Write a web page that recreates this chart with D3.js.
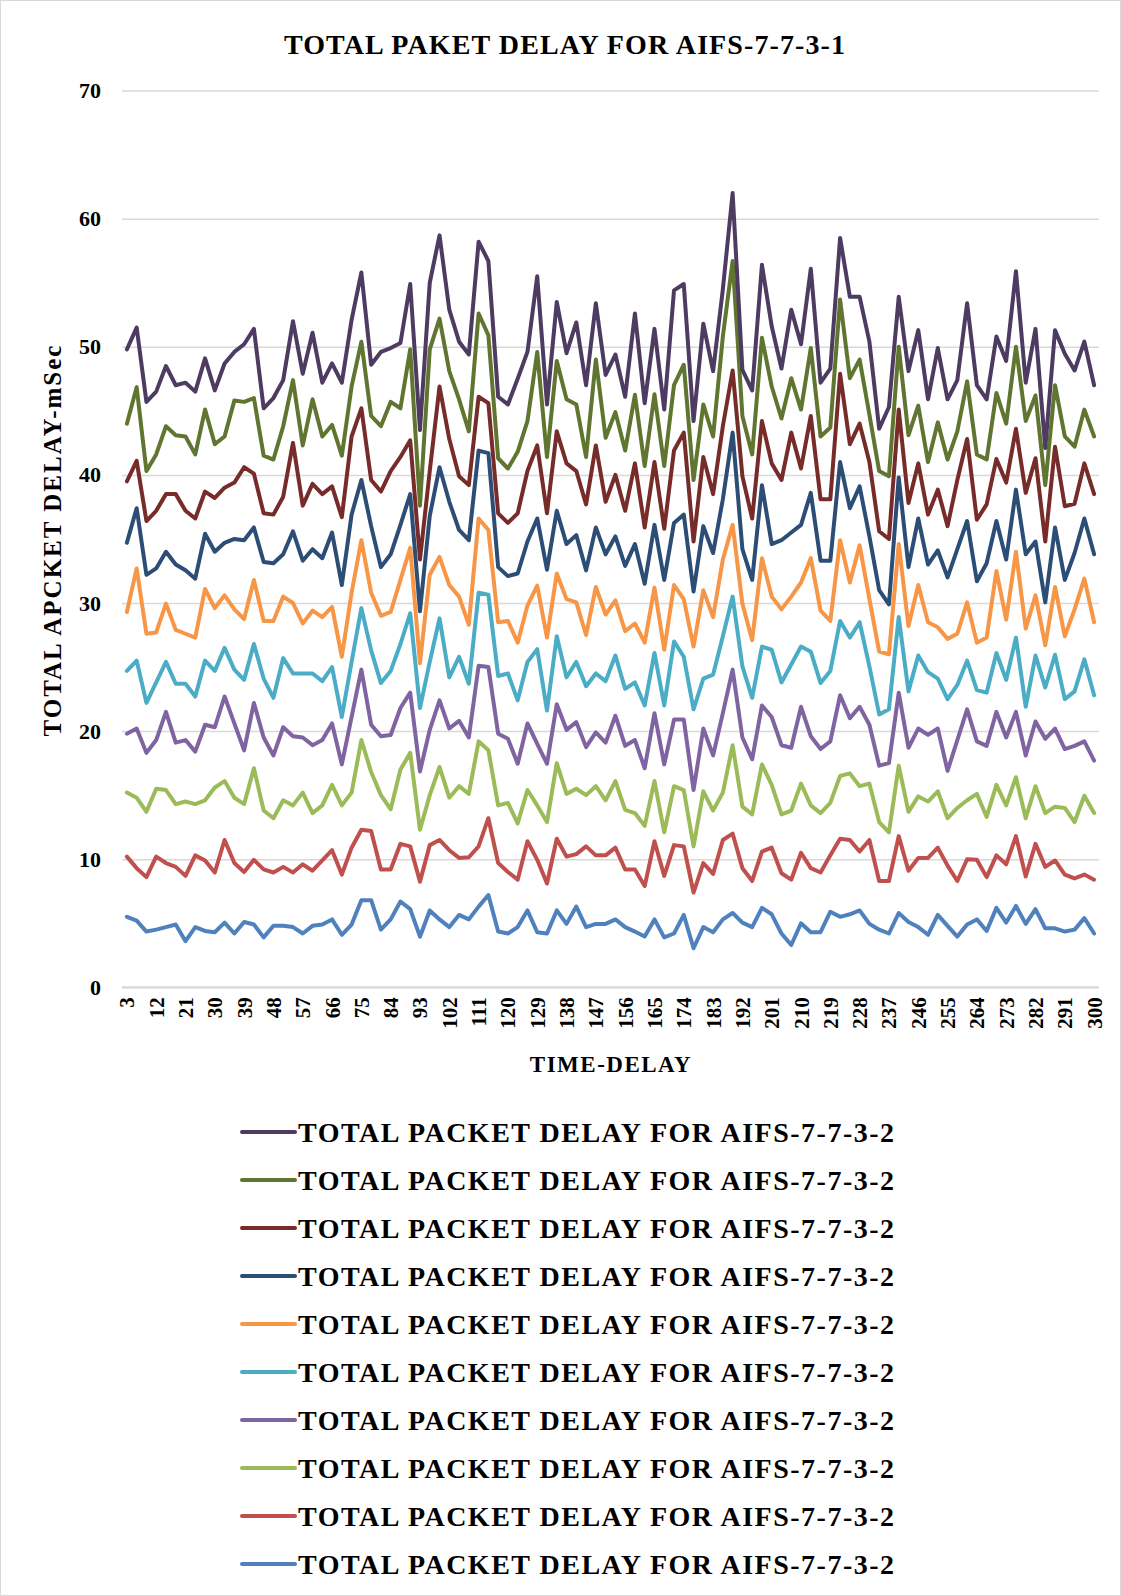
<!DOCTYPE html>
<html>
<head>
<meta charset="utf-8">
<script src="https://cdn.jsdelivr.net/npm/d3@7"></script>
<style>
  body { margin: 0; background: #fff; }
  text { font-family: "Liberation Serif", "Times New Roman", serif; font-weight: bold; fill: #000; }
</style>
</head>
<body>
<div id="packetDelayChart"></div>
<script>
// x categories: 3, 6, ..., 300
var timeDelay = d3.range(3, 301, 3);
var yTicks = [0, 10, 20, 30, 40, 50, 60, 70];
var seriesName = "TOTAL PACKET DELAY FOR AIFS-7-7-3-2";

// series values (bottom series first)
var seriesBlue = [5.5,5.2,4.35,4.5,4.7,4.9,3.6,4.7,4.4,4.3,5.05,4.2,5.1,4.9,3.9,4.8,4.8,4.7,4.2,4.8,4.9,5.3,4.1,4.9,6.8,6.8,4.5,5.3,6.7,6.1,3.95,6.0,5.3,4.7,5.65,5.3,6.3,7.2,4.35,4.2,4.7,6.0,4.3,4.2,6.0,4.95,6.3,4.7,4.95,4.95,5.3,4.7,4.35,3.96,5.3,3.9,4.2,5.65,3.05,4.7,4.3,5.3,5.8,5.05,4.7,6.2,5.7,4.2,3.3,5.0,4.3,4.3,5.9,5.5,5.7,6.0,4.95,4.5,4.2,5.8,5.1,4.7,4.1,5.65,4.8,3.96,4.9,5.3,4.4,6.2,5.05,6.35,4.95,6.1,4.6,4.6,4.35,4.5,5.4,4.2];
var seriesRed = [10.2,9.3,8.6,10.2,9.7,9.4,8.7,10.3,9.9,8.96,11.5,9.7,9.0,9.95,9.2,8.96,9.4,8.96,9.6,9.1,9.9,10.7,8.8,10.9,12.3,12.2,9.2,9.2,11.2,11.0,8.25,11.1,11.5,10.7,10.1,10.15,11.0,13.2,9.7,9.0,8.4,11.4,9.95,8.1,11.6,10.2,10.4,11.0,10.3,10.3,10.9,9.2,9.2,7.9,11.4,8.7,11.1,11.0,7.4,9.7,8.85,11.5,12.0,9.3,8.3,10.6,10.9,8.9,8.4,10.5,9.3,8.96,10.3,11.6,11.5,10.6,11.5,8.3,8.3,11.8,9.1,10.1,10.1,10.9,9.5,8.3,10.0,9.95,8.6,10.3,9.6,11.8,8.65,11.2,9.4,9.9,8.8,8.5,8.8,8.4];
var seriesGreen = [15.2,14.8,13.7,15.5,15.4,14.3,14.5,14.3,14.6,15.6,16.1,14.8,14.3,17.1,13.8,13.2,14.6,14.2,15.2,13.6,14.2,15.8,14.2,15.2,19.3,16.8,15.0,13.9,17.0,18.3,12.3,15.0,17.2,14.8,15.7,15.1,19.2,18.5,14.2,14.4,12.8,15.4,14.2,12.9,17.5,15.1,15.5,15.0,15.7,14.6,16.1,13.85,13.6,12.6,16.1,12.1,15.7,15.4,11.0,15.3,13.8,15.2,18.9,14.1,13.5,17.4,15.8,13.5,13.8,15.9,14.2,13.6,14.4,16.5,16.7,15.7,15.9,12.9,12.1,17.3,13.7,14.9,14.5,15.3,13.2,14.0,14.6,15.1,13.3,15.8,14.2,16.4,13.2,15.7,13.6,14.1,14.0,12.9,14.95,13.6];
var seriesPurple = [19.8,20.2,18.3,19.3,21.5,19.1,19.3,18.4,20.5,20.3,22.7,20.6,18.5,22.2,19.5,18.1,20.3,19.6,19.5,18.9,19.3,20.6,17.4,21.1,24.8,20.5,19.6,19.7,21.8,23.0,16.85,20.1,22.4,20.2,20.8,19.5,25.1,25.0,19.8,19.4,17.45,20.6,19.0,17.45,22.1,20.1,20.7,18.75,19.9,19.1,21.2,18.85,19.3,17.1,21.4,17.4,20.9,20.9,15.4,20.2,18.1,21.4,24.8,19.5,17.8,22.0,21.1,18.9,18.7,21.9,19.6,18.6,19.2,22.8,21.0,21.9,20.5,17.3,17.5,23.0,18.7,20.2,19.7,20.2,16.9,19.3,21.7,19.2,18.85,21.5,19.5,21.5,18.1,20.75,19.4,20.2,18.6,18.85,19.2,17.7];
var seriesAqua = [24.7,25.5,22.2,23.8,25.4,23.7,23.7,22.7,25.5,24.7,26.5,24.8,24.0,26.8,24.1,22.6,25.7,24.5,24.5,24.5,23.9,25.0,21.1,25.4,29.6,26.3,23.75,24.7,26.8,29.2,21.8,25.4,28.8,24.2,25.8,23.7,30.8,30.65,24.3,24.5,22.4,25.4,26.4,21.6,27.4,24.2,25.4,23.5,24.5,23.9,25.9,23.3,23.8,22.0,26.1,22.0,27.0,25.8,21.7,24.1,24.4,27.4,30.5,25.05,22.6,26.6,26.35,23.8,25.2,26.6,26.2,23.75,24.7,28.6,27.3,28.5,25.05,21.3,21.7,28.9,23.1,25.9,24.6,24.1,22.5,23.6,25.5,23.2,23.0,26.1,24.0,27.3,21.9,25.9,23.4,25.96,22.5,23.1,25.6,22.8];
var seriesOrange = [29.3,32.7,27.6,27.7,29.95,27.9,27.6,27.3,31.1,29.6,30.6,29.5,28.75,31.8,28.6,28.6,30.5,30.0,28.4,29.4,28.9,29.7,25.8,30.8,34.9,30.8,29.0,29.3,31.8,34.3,25.3,32.2,33.6,31.4,30.5,28.3,36.6,35.7,28.5,28.6,26.9,29.8,31.35,27.3,32.3,30.3,30.05,27.5,31.25,29.1,30.2,27.8,28.4,26.9,31.2,26.35,31.4,30.3,26.6,31.0,28.9,33.4,36.1,29.95,27.1,33.5,30.5,29.5,30.5,31.6,33.5,29.4,28.6,34.9,31.6,34.5,30.3,26.2,26.0,34.6,28.2,31.4,28.5,28.1,27.2,27.6,30.05,26.9,27.3,32.5,28.7,34.0,28.0,30.6,26.7,31.25,27.4,29.5,31.9,28.5];
var seriesDarkBlue = [34.7,37.4,32.2,32.7,34.0,33.0,32.55,31.9,35.4,34.0,34.7,35.0,34.9,35.9,33.2,33.1,33.8,35.6,33.3,34.2,33.5,35.5,31.4,36.9,39.6,36.0,32.8,33.8,36.1,38.5,29.35,36.8,40.6,37.9,35.7,34.9,41.9,41.7,32.8,32.1,32.3,34.8,36.6,32.6,37.2,34.6,35.3,32.55,35.9,33.8,35.2,32.9,34.6,31.5,36.1,31.8,36.25,36.9,30.9,36.0,33.9,38.1,43.3,34.2,31.8,39.2,34.6,34.9,35.5,36.1,38.6,33.3,33.3,41.0,37.4,39.1,35.2,31.0,29.9,39.8,32.8,36.6,33.0,34.1,32.0,34.2,36.4,31.7,33.1,36.4,33.4,38.85,33.8,34.8,30.05,35.9,31.8,33.9,36.6,33.8];
var seriesDarkRed = [39.5,41.1,36.4,37.2,38.5,38.5,37.2,36.6,38.7,38.2,39.0,39.4,40.6,40.1,37.0,36.9,38.3,42.5,37.6,39.3,38.5,39.1,36.7,43.0,45.2,39.6,38.7,40.3,41.4,42.7,33.4,40.3,46.9,42.8,39.9,39.2,46.1,45.6,37.0,36.25,37.0,40.3,42.3,37.0,43.4,40.9,40.3,37.7,42.3,37.9,40.0,37.2,40.9,35.9,41.0,35.8,41.9,43.3,34.8,41.4,38.5,43.8,48.15,39.9,36.6,44.2,40.9,39.6,43.3,40.5,44.6,38.1,38.1,47.9,42.4,44.0,41.0,35.6,35.0,45.1,37.8,40.9,36.9,38.85,36.0,39.6,42.8,36.5,37.7,41.25,39.4,43.6,38.6,41.3,34.8,42.2,37.55,37.75,40.9,38.5];
var seriesDarkGreen = [44.0,46.85,40.3,41.6,43.8,43.1,43.0,41.6,45.1,42.4,43.0,45.8,45.7,46.0,41.5,41.2,43.8,47.4,42.3,45.9,43.0,43.9,41.5,46.9,50.4,44.6,43.8,45.7,45.2,49.8,37.6,49.8,52.2,48.1,45.9,43.4,52.6,50.9,41.3,40.5,41.8,44.2,49.6,41.4,48.9,45.9,45.5,41.4,49.0,42.9,44.9,41.9,46.25,40.7,46.3,40.7,47.0,48.6,39.6,45.5,43.0,50.8,56.7,44.6,41.6,50.7,46.9,44.4,47.55,45.1,49.9,43.0,43.7,53.7,47.55,49.0,44.7,40.3,39.9,50.0,43.1,45.4,41.0,44.1,41.2,43.4,47.3,41.6,41.2,46.4,44.0,50.0,44.2,46.2,39.2,47.0,43.0,42.2,45.1,43.0];
var seriesDarkPurple = [49.8,51.5,45.7,46.5,48.5,47.0,47.2,46.5,49.1,46.6,48.7,49.6,50.2,51.4,45.2,46.0,47.4,52.0,47.9,51.1,47.2,48.7,47.2,52.1,55.8,48.6,49.6,49.9,50.3,54.9,43.5,55.0,58.7,52.9,50.4,49.4,58.2,56.7,46.1,45.5,47.5,49.6,55.5,45.5,53.5,49.5,51.9,47.0,53.4,47.8,49.4,46.1,52.6,45.6,51.4,45.1,54.4,54.9,44.2,51.8,48.1,54.5,62.0,48.2,46.6,56.4,51.6,48.3,52.9,50.2,56.1,47.2,48.3,58.5,53.9,53.9,50.4,43.6,45.3,53.9,48.1,51.3,45.9,49.9,45.9,47.4,53.4,47.0,45.9,50.8,48.9,55.9,47.2,51.4,42.1,51.3,49.45,48.15,50.4,47.0];

var seriesList = [seriesBlue, seriesRed, seriesGreen, seriesPurple, seriesAqua,
                  seriesOrange, seriesDarkBlue, seriesDarkRed, seriesDarkGreen, seriesDarkPurple];
var seriesColors = ["#4F81BD", "#C0504D", "#9BBB59", "#8064A2", "#4BACC6",
                    "#F79646", "#2C4D75", "#772C2A", "#5F7530", "#4D3B62"];

// Setting chart parameters
var properties = {
    width: 1121,
    height: 1596,
    plot: { left: 122, right: 1099, top: 90.6, bottom: 987.3 },
    legend: { x1: 242, x2: 295, textX: 298, top: 1132, step: 48 }
};

var svg = d3.select("#packetDelayChart")
    .append("svg")
    .attr("width", properties.width)
    .attr("height", properties.height);

// chart area border
svg.append("rect")
    .attr("x", 0.5).attr("y", 0.5)
    .attr("width", properties.width - 1).attr("height", properties.height - 1)
    .attr("fill", "#fff").attr("stroke", "#d9d9d9");

var x = d3.scalePoint()
    .domain(timeDelay)
    .range([properties.plot.left, properties.plot.right])
    .padding(0.5);

var y = d3.scaleLinear()
    .domain([0, 70])
    .range([properties.plot.bottom, properties.plot.top]);

// gridlines + y labels
var yAxis = svg.append("g")
    .attr("transform", "translate(" + properties.plot.left + ",0)")
    .call(d3.axisLeft(y).tickValues(yTicks).tickSize(-(properties.plot.right - properties.plot.left)).tickPadding(21));
yAxis.select(".domain").remove();
yAxis.selectAll(".tick line").attr("stroke", "#d9d9d9").attr("stroke-width", 1.5);
yAxis.selectAll(".tick text").style("font-size", "22px");

// category axis
var xAxis = svg.append("g")
    .attr("transform", "translate(0," + properties.plot.bottom + ")")
    .call(d3.axisBottom(x).tickValues(timeDelay.filter(function (d, i) { return i % 3 === 0; })).tickSize(0));
xAxis.select(".domain").attr("stroke", "#d9d9d9").attr("stroke-width", 2)
    .attr("d", "M" + properties.plot.left + ",0H" + properties.plot.right);
xAxis.selectAll(".tick text")
    .style("font-size", "21px")
    .attr("text-anchor", "end")
    .attr("dominant-baseline", "central")
    .attr("transform", "translate(0,10) rotate(-90)")
    .attr("x", 0).attr("y", 0).attr("dy", null);

// lines
var line = d3.line()
    .x(function (d, i) { return x(timeDelay[i]); })
    .y(function (d) { return y(d); });

svg.append("g").selectAll("path")
    .data(seriesList)
    .enter()
    .append("path")
    .attr("d", line)
    .attr("fill", "none")
    .attr("stroke", function (d, i) { return seriesColors[i]; })
    .attr("stroke-width", 4)
    .attr("stroke-linejoin", "round")
    .attr("stroke-linecap", "round");

// titles
svg.append("text")
    .attr("x", 565).attr("y", 54)
    .attr("text-anchor", "middle")
    .style("font-size", "28px")
    .style("letter-spacing", "1.1px")
    .text("TOTAL PAKET DELAY FOR AIFS-7-7-3-1");

svg.append("text")
    .attr("x", 611).attr("y", 1072)
    .attr("text-anchor", "middle")
    .style("font-size", "23px")
    .style("letter-spacing", "1.5px")
    .text("TIME-DELAY");

svg.append("text")
    .attr("transform", "translate(61,540) rotate(-90)")
    .attr("text-anchor", "middle")
    .style("font-size", "25px")
    .style("letter-spacing", "2px")
    .text("TOTAL APCKET DELAY-mSec");

// legend, last series on top
var legend = svg.append("g").selectAll("g")
    .data(d3.range(seriesList.length - 1, -1, -1))
    .enter()
    .append("g")
    .attr("transform", function (d, k) { return "translate(0," + (properties.legend.top + k * properties.legend.step) + ")"; });

legend.append("line")
    .attr("x1", properties.legend.x1).attr("x2", properties.legend.x2)
    .attr("stroke", function (d) { return seriesColors[d]; })
    .attr("stroke-width", 4)
    .attr("stroke-linecap", "round");

legend.append("text")
    .attr("x", properties.legend.textX)
    .attr("dominant-baseline", "central")
    .style("font-size", "28px")
    .style("letter-spacing", "1.5px")
    .text(seriesName);
</script>
</body>
</html>
